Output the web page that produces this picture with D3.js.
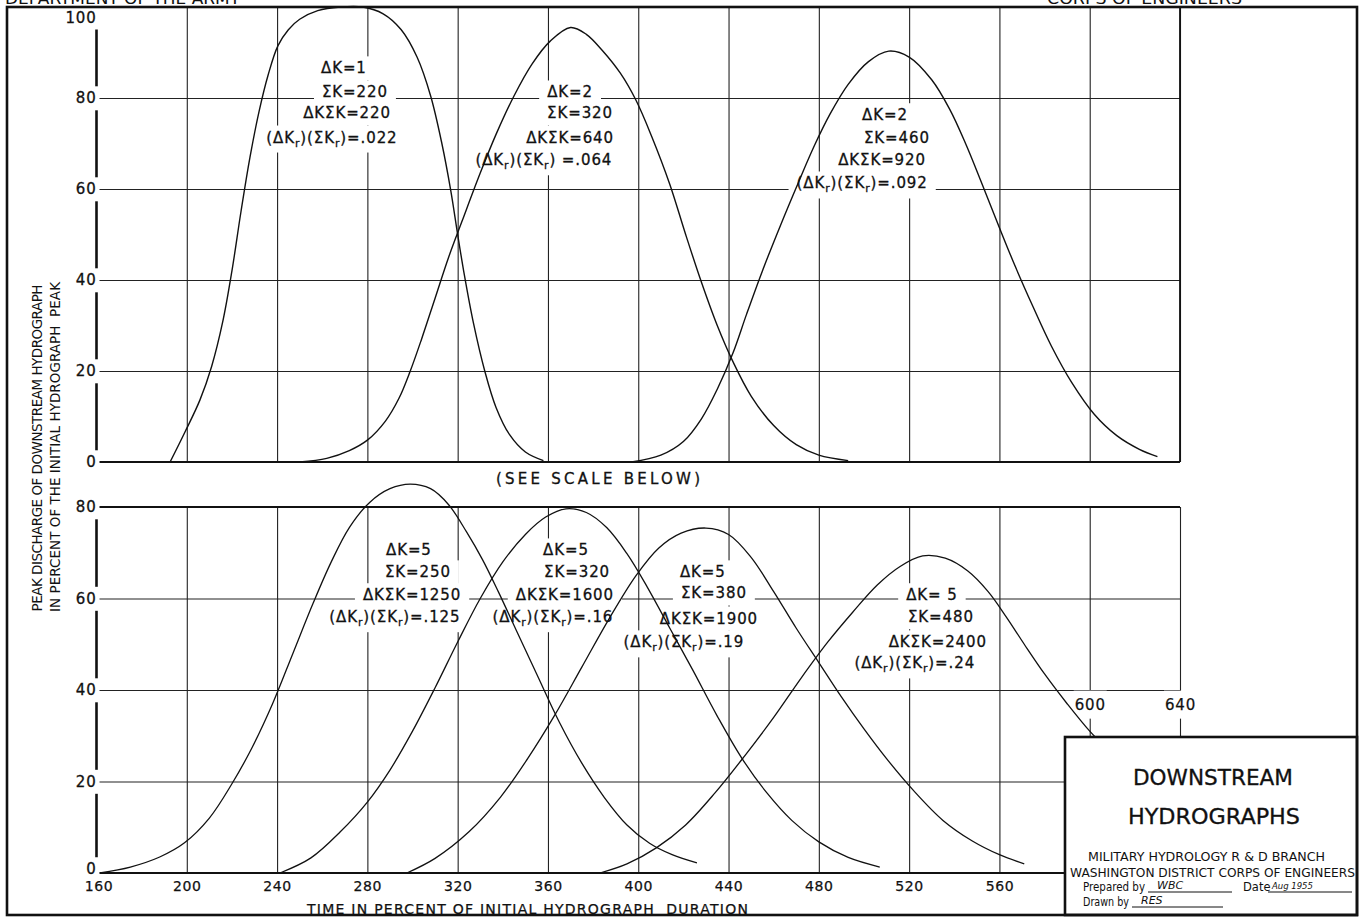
<!DOCTYPE html>
<html>
<head>
<meta charset="utf-8">
<script src="https://cdn.jsdelivr.net/npm/d3@7"></script>
<style>
  body { margin: 0; background: #fff; }
  svg { display: block; }
  text { font-family: "DejaVu Sans", sans-serif; fill: #111; }
</style>
</head>
<body>
<svg id="chart" width="1363" height="919"></svg>
<script>
// time in percent of initial hydrograph duration
var timeTicks = [160, 200, 240, 280, 320, 360, 400, 440, 480, 520, 560, 600, 640];
var bottomTimeLabels = [160, 200, 240, 280, 320, 360, 400, 440, 480, 520, 560];
var sideTimeLabels = [600, 640];
// peak discharge, percent of initial peak
var topPeakTicks = [0, 20, 40, 60, 80, 100];
var lowPeakTicks = [0, 20, 40, 60, 80];

// upper panel curves  [time, peak %]
var curveSum220 = [[192.6,0],[199.2,6.6],[205.8,13.6],[211,21],[216,31],[220,42],[224,55],[228,67],[232,77],
  [236,85],[240.4,91.5],[245,95],[250,97.3],[258,99.2],[268,100],[278,100],[287,98.5],[295,95],[302,89],
  [308,80.5],[313,70],[317,59.5],[320,50],[323,41],[327,30.5],[332,20],[337,12],[343,6],[350,2.2],[358,0.3]];
var curveSum320 = [[250,0],[262,0.8],[272,2.5],[280,4.8],[288,9],[294,14],[299,20],[304,27],[310,36],
  [316,45],[322,53],[330,63.5],[337,72],[345,80.5],[353,87.5],[361,92.5],[370,95.5],[377,94],[384,90.5],
  [392,85.5],[399,79.5],[406,71.5],[414,61],[421,50],[428,39.5],[435,30],[442,22],[450,14.5],[460,8],
  [470,3.8],[480,1.5],[493,0.3]];
var curveSum460 = [[397,0],[410,1.5],[420,4.5],[428,9.5],[435,16],[442,24],[448,32.5],[455,42],[463,52],
  [471,61.5],[478,69.5],[485,76.5],[493,83],[502,88],[511,90.3],[520,89],[530,84],[538,77.5],[545,70],
  [552,61.5],[560,51.5],[567,43],[575,34],[583,25.5],[592,17.5],[602,10.5],[612,5.8],[622,2.8],[630,1.2]];

// lower panel curves
var curveSum250 = [[161.5,0],[175,1.3],[188,3.5],[199,6.6],[210,12],[220,19.5],[229,27.5],[238,37],[247,48],
  [256,59],[264,68],[272,75.5],[281,81],[290,84],[299,85],[308,84],[316,80.5],[324,74.5],[331,68.5],
  [338,61.5],[346,53],[355,43.5],[365,33],[375,24],[385,16.5],[395,10.5],[405,6.5],[415,4],[426,2.2]];
var curveSum320b = [[241.3,0],[255,3.3],[268,9],[280,15.5],[290,22.5],[300,31],[310,40.5],[320,50.5],
  [330,60],[340,68],[350,74],[359,77.8],[368,79.6],[377,78.8],[386,75.5],[395,69.8],[404,62.5],[414,53.5],
  [424,44.5],[435,34.3],[446,25],[457,17.5],[468,11.5],[480,6.8],[493,3.4],[507,1.3]];
var curveSum380 = [[297.5,0],[310,3.2],[325,9],[339,16.6],[351,25],[363,34.5],[375,45],[387,55.5],[399,65],
  [409,71],[419,74.3],[430,75.4],[440,74],[450,69],[460,61.5],[470,53.5],[480,46],[490,38.5],[500,31.5],
  [510,25],[522,18],[535,11.5],[548,7],[560,4],[571,2]];
var curveSum480 = [[383,0],[395,2],[408,5.5],[421,10.5],[434,17.5],[447,25.5],[460,34],[472,42.5],[484,50.5],
  [495,57],[506,63],[516,67],[526,69.3],[536,68.8],[546,66],[555,61.5],[563,56],[571,50],[580,43.5],
  [590,37],[600,31],[608,27]];

// notes: text lines and where each line sits [time, peak %]
var noteSum220 = ["ΔK=1", "ΣK=220", "ΔKΣK=220", "(ΔK_r)(ΣK_r)=.022"];
var noteSum220At = [[269.6,86.6],[274.5,81.3],[271,76.7],[264.3,71.4]];
var noteSum320 = ["ΔK=2", "ΣK=320", "ΔKΣK=640", "(ΔK_r)(ΣK_r) =.064"];
var noteSum320At = [[369.8,81.3],[374.2,76.7],[369.8,71.4],[358.2,66.4]];
var noteSum460 = ["ΔK=2", "ΣK=460", "ΔKΣK=920", "(ΔK_r)(ΣK_r)=.092"];
var noteSum460At = [[509.3,76.3],[514.6,71.4],[508,66.4],[499.2,61.3]];

var noteSum250 = ["ΔK=5", "ΣK=250", "ΔKΣK=1250", "(ΔK_r)(ΣK_r)=.125"];
var noteSum250At = [[298.4,70.6],[302.4,65.8],[299.8,60.8],[292.2,56.0]];
var noteSum320b = ["ΔK=5", "ΣK=320", "ΔKΣK=1600", "(ΔK_r)(ΣK_r)=.16"];
var noteSum320bAt = [[368,70.6],[372.9,65.8],[367.5,60.8],[362.2,56.0]];
var noteSum380 = ["ΔK=5", "ΣK=380", "ΔKΣK=1900", "(ΔK_r)(ΣK_r)=.19"];
var noteSum380At = [[428.6,65.8],[433.5,61.2],[431.3,55.7],[420.2,50.5]];
var noteSum480 = ["ΔK= 5", "ΣK=480", "ΔKΣK=2400", "(ΔK_r)(ΣK_r)=.24"];
var noteSum480At = [[530.1,60.8],[534.1,56.0],[532.7,50.5],[522.5,45.9]];

var svg = d3.select("#chart");
var svgBox = svg.node().getBoundingClientRect();

var x = d3.scaleLinear().domain([160, 640]).range([96.5, 1180]);
var yTop = d3.scaleLinear().domain([0, 100]).range([462, 7]);
var yLow = d3.scaleLinear().domain([0, 80]).range([873, 507]);

var gridLayer = svg.append("g");
var maskLayer = svg.append("g");
var curveLayer = svg.append("g");
var textLayer = svg.append("g");
var blockLayer = svg.append("g");

// white patch behind a text, so the grid breaks round it
function mask(sel, px, py) {
  sel.each(function() {
    var b = this.getBoundingClientRect();
    maskLayer.append("rect")
      .attr("x", b.left - svgBox.left - px)
      .attr("y", b.top - svgBox.top - py)
      .attr("width", b.width + 2 * px)
      .attr("height", b.height + 2 * py)
      .attr("fill", "#fff");
  });
}

function panelGrid(yScale, ticks) {
  var top = d3.max(ticks), h = yScale(0) - yScale(top);
  gridLayer.append("g")
    .attr("transform", "translate(0," + yScale(top) + ")")
    .call(d3.axisTop(x).tickValues(timeTicks.slice(1)).tickSize(-h).tickFormat(""))
    .call(function(g) { g.select(".domain").remove(); })
    .selectAll("line").attr("stroke", "#222").attr("stroke-width", 1.1);
  gridLayer.append("g")
    .attr("transform", "translate(" + x(160) + ",0)")
    .call(d3.axisLeft(yScale).tickValues(ticks.slice(1, -1)).tickSize(-(x(640) - x(160))).tickFormat(""))
    .call(function(g) { g.select(".domain").remove(); })
    .selectAll("line").attr("stroke", "#222").attr("stroke-width", 1.1);
  // heavy lines: value axis, zero line, top line
  gridLayer.append("line").attr("x1", x(160)).attr("x2", x(160))
    .attr("y1", yScale(top)).attr("y2", yScale(0)).attr("stroke", "#111").attr("stroke-width", 2.6);
  gridLayer.append("line").attr("x1", x(160)).attr("x2", x(640))
    .attr("y1", yScale(0)).attr("y2", yScale(0)).attr("stroke", "#111").attr("stroke-width", 2.2);
  gridLayer.append("line").attr("x1", x(160)).attr("x2", x(640))
    .attr("y1", yScale(top)).attr("y2", yScale(top)).attr("stroke", "#111").attr("stroke-width", 1.8);
}
panelGrid(yTop, topPeakTicks);
panelGrid(yLow, lowPeakTicks);
gridLayer.append("line").attr("x1", x(640)).attr("x2", x(640))
  .attr("y1", yTop(100)).attr("y2", yTop(0)).attr("stroke", "#111").attr("stroke-width", 1.8);

// value labels
function valueLabels(yScale, ticks) {
  var g = textLayer.append("g")
    .attr("transform", "translate(" + (x(160) + 1) + ",0)")
    .call(d3.axisLeft(yScale).tickValues(ticks).tickSize(0).tickPadding(1))
    .attr("font-family", "DejaVu Sans").attr("font-size", 15);
  g.select(".domain").remove();
  g.selectAll("text").attr("fill", "#111").attr("letter-spacing", 0.8)
    .attr("stroke", "#111").attr("stroke-width", 0.3);
  g.selectAll(".tick").filter(function(d) { return d === 100; }).select("text").attr("dy", "1.0em");
  g.selectAll(".tick").filter(function(d) { return d === 0 && yScale === yLow; }).select("text").attr("dy", "0.05em");
  mask(g.selectAll("text"), 3, 3);
}
valueLabels(yTop, topPeakTicks);
valueLabels(yLow, lowPeakTicks);

// time labels
var tl = textLayer.append("g")
  .attr("transform", "translate(0," + yLow(0) + ")")
  .call(d3.axisBottom(x).tickValues(bottomTimeLabels).tickSize(0).tickPadding(8))
  .attr("font-family", "DejaVu Sans").attr("font-size", 14);
tl.select(".domain").remove();
tl.selectAll("text").attr("fill", "#111").attr("letter-spacing", 0.6)
  .attr("stroke", "#111").attr("stroke-width", 0.25);
tl.selectAll(".tick").filter(function(d) { return d === 160; }).select("text").attr("dx", 2);

var sl = textLayer.append("g")
  .attr("transform", "translate(0," + yLow(40) + ")")
  .call(d3.axisBottom(x).tickValues(sideTimeLabels).tickSize(0).tickPadding(9))
  .attr("font-family", "DejaVu Sans").attr("font-size", 15);
sl.select(".domain").remove();
sl.selectAll("text").attr("fill", "#111").attr("letter-spacing", 0.8)
  .attr("stroke", "#111").attr("stroke-width", 0.25);
mask(sl.selectAll("text"), 1, 5);

// notes
function writeText(t, str) {
  str.split("_r").forEach(function(p, i) {
    if (i > 0) t.append("tspan").attr("dy", 4).attr("font-size", "0.72em").text("r");
    t.append("tspan").attr("dy", i > 0 ? -4 : null).text(p);
  });
}
function note(lines, at, yScale) {
  lines.forEach(function(s, i) {
    var t = textLayer.append("text")
      .attr("x", x(at[i][0])).attr("y", yScale(at[i][1]))
      .attr("dy", "0.36em").attr("text-anchor", "middle")
      .attr("font-size", 15).attr("letter-spacing", 0.9)
      .attr("stroke", "#111").attr("stroke-width", 0.3)
      .style("white-space", "pre");
    writeText(t, s);
    mask(t, 8, 3);
  });
}
note(noteSum220, noteSum220At, yTop);
note(noteSum320, noteSum320At, yTop);
note(noteSum460, noteSum460At, yTop);
note(noteSum250, noteSum250At, yLow);
note(noteSum320b, noteSum320bAt, yLow);
note(noteSum380, noteSum380At, yLow);
note(noteSum480, noteSum480At, yLow);

// curves
var lineTop = d3.line().x(function(d) { return x(d[0]); }).y(function(d) { return yTop(d[1]); })
  .curve(d3.curveCatmullRom.alpha(0.5));
var lineLow = d3.line().x(function(d) { return x(d[0]); }).y(function(d) { return yLow(d[1]); })
  .curve(d3.curveCatmullRom.alpha(0.5));
curveLayer.selectAll(".top").data([curveSum220, curveSum320, curveSum460]).enter()
  .append("path").attr("d", lineTop).attr("fill", "none").attr("stroke", "#111").attr("stroke-width", 1.4);
curveLayer.selectAll(".low").data([curveSum250, curveSum320b, curveSum380, curveSum480]).enter()
  .append("path").attr("d", lineLow).attr("fill", "none").attr("stroke", "#111").attr("stroke-width", 1.3);

// captions
textLayer.append("text").attr("x", 496).attr("y", 484)
  .attr("font-size", 15).attr("textLength", 204).attr("lengthAdjust", "spacing")
  .attr("stroke", "#111").attr("stroke-width", 0.3).text("(SEE SCALE BELOW)");
textLayer.append("text").attr("x", 307).attr("y", 914).attr("font-size", 14)
  .attr("textLength", 441).attr("lengthAdjust", "spacing").style("white-space", "pre")
  .attr("stroke", "#111").attr("stroke-width", 0.25)
  .text("TIME IN PERCENT OF INITIAL HYDROGRAPH  DURATION");
textLayer.append("text").attr("transform", "translate(42,448) rotate(-90)").attr("text-anchor", "middle")
  .attr("font-family", "Liberation Sans").attr("font-size", 13.5)
  .attr("textLength", 327).attr("lengthAdjust", "spacing")
  .text("PEAK DISCHARGE OF DOWNSTREAM HYDROGRAPH");
textLayer.append("text").attr("transform", "translate(60,447) rotate(-90)").attr("text-anchor", "middle")
  .attr("font-family", "Liberation Sans").attr("font-size", 13.5)
  .attr("textLength", 330).attr("lengthAdjust", "spacing").style("white-space", "pre")
  .text("IN PERCENT OF THE INITIAL HYDROGRAPH  PEAK");

// sheet header, cut by the page edge
textLayer.append("text").attr("x", 5).attr("y", 4).attr("font-size", 16)
  .attr("textLength", 235).attr("lengthAdjust", "spacingAndGlyphs").text("DEPARTMENT OF THE ARMY");
textLayer.append("text").attr("x", 1047).attr("y", 4).attr("font-size", 16)
  .attr("textLength", 195).attr("lengthAdjust", "spacingAndGlyphs").text("CORPS OF ENGINEERS");

// title block
blockLayer.append("rect").attr("x", 1065).attr("y", 737).attr("width", 292).attr("height", 178)
  .attr("fill", "#fff").attr("stroke", "#111").attr("stroke-width", 2.6);
blockLayer.append("text").attr("x", 1213).attr("y", 785).attr("text-anchor", "middle")
  .attr("font-size", 21).attr("textLength", 160).attr("lengthAdjust", "spacingAndGlyphs")
  .attr("stroke", "#111").attr("stroke-width", 0.3).text("DOWNSTREAM");
blockLayer.append("text").attr("x", 1214).attr("y", 824).attr("text-anchor", "middle")
  .attr("font-size", 21).attr("textLength", 172).attr("lengthAdjust", "spacingAndGlyphs")
  .attr("stroke", "#111").attr("stroke-width", 0.3).text("HYDROGRAPHS");
blockLayer.append("text").attr("x", 1088).attr("y", 861).attr("font-family", "Liberation Sans")
  .attr("font-size", 12).attr("textLength", 237).attr("lengthAdjust", "spacingAndGlyphs")
  .text("MILITARY HYDROLOGY R & D BRANCH");
blockLayer.append("text").attr("x", 1070).attr("y", 877).attr("font-family", "Liberation Sans")
  .attr("font-size", 12).attr("textLength", 285).attr("lengthAdjust", "spacingAndGlyphs")
  .text("WASHINGTON DISTRICT CORPS OF ENGINEERS");
blockLayer.append("text").attr("x", 1083).attr("y", 891).attr("font-family", "Liberation Sans")
  .attr("font-size", 11.5).attr("textLength", 62).attr("lengthAdjust", "spacingAndGlyphs").text("Prepared by");
blockLayer.append("text").attr("x", 1243).attr("y", 891).attr("font-family", "Liberation Sans")
  .attr("font-size", 11.5).text("Date");
blockLayer.append("text").attr("x", 1083).attr("y", 906).attr("font-family", "Liberation Sans")
  .attr("font-size", 11.5).attr("textLength", 46).attr("lengthAdjust", "spacingAndGlyphs").text("Drawn by");
blockLayer.append("text").attr("x", 1157).attr("y", 889).attr("font-family", "Liberation Sans")
  .attr("font-size", 11).attr("font-style", "italic").text("WBC");
blockLayer.append("text").attr("x", 1272).attr("y", 889).attr("font-family", "Liberation Sans")
  .attr("font-size", 8.5).attr("font-style", "italic").text("Aug 1955");
blockLayer.append("text").attr("x", 1141).attr("y", 904).attr("font-family", "Liberation Sans")
  .attr("font-size", 11).attr("font-style", "italic").text("RES");
[[1148, 1232, 892], [1268, 1352, 892], [1132, 1223, 907]].forEach(function(u) {
  blockLayer.append("line").attr("x1", u[0]).attr("x2", u[1]).attr("y1", u[2]).attr("y2", u[2])
    .attr("stroke", "#111").attr("stroke-width", 1);
});

// sheet border
blockLayer.append("rect").attr("x", 7).attr("y", 7).attr("width", 1350).attr("height", 908)
  .attr("fill", "none").attr("stroke", "#111").attr("stroke-width", 2.6);
</script>
</body>
</html>
